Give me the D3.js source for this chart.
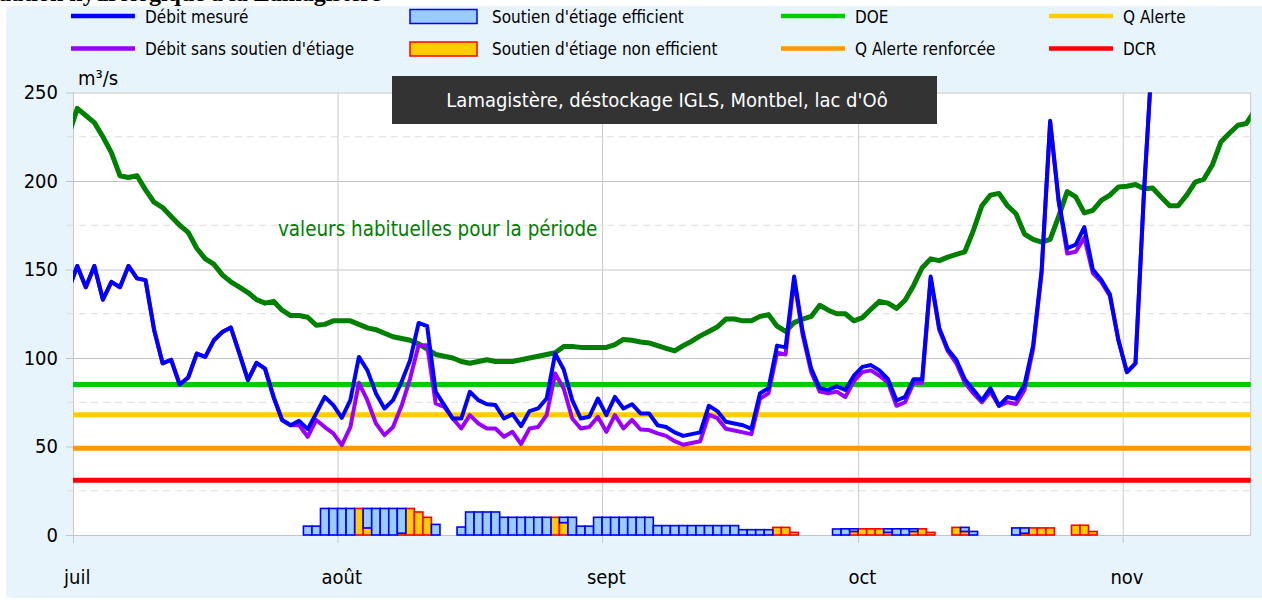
<!DOCTYPE html>
<html lang="fr">
<head>
<meta charset="utf-8">
<title>Lamagistère - soutien d'étiage</title>
<script src="https://cdnjs.cloudflare.com/ajax/libs/d3/7.8.5/d3.min.js"></script>
<style>
  body { margin: 0; background: #fff; }
  svg text { font-family: "DejaVu Sans Condensed", "DejaVu Sans", sans-serif; font-stretch: condensed; }
  .grid path { display: none; }
</style>
</head>
<body>
<div id="chart"></div>
<script>
// débits journaliers (m3/s) : un point par jour (midi), à partir du 30 juin
var lineStart = "2023-06-30";
var debitMesure = [139,152,140,152,133,143,140,152,145,144,
  116,97,99,85,89,102.5,100.6,110,114.7,117.2,
  102.5,87.5,97.2,94,78,65,62,64.5,59.8,68.7,
  78,73.4,66.2,76.2,100.6,93,80,71.5,76.2,86.5,
  98.8,119.8,118,80.9,73.4,65.8,65.8,80.9,76.2,73.9,
  73.4,65.8,68.3,61.5,70,71.5,77.1,102.5,93.5,76.2,
  65.8,66.8,77.1,67.7,78,71.5,73.9,68.7,68.7,62,
  61,58,56,57,58,73,70,64,63,62,
  60,80,83,107,106,146,115,94,83,82,
  84,82,90,95,96,93,88,76,78,88,
  88,146,117,105,99,88,82,76,83,73,
  78,77,85,107,149.5,234,189,162,164,174,
  150,144,136,110,92,97,194,275];
var debitSansSoutien = [139,152,140,152,133,143,140,152,145,144,
  116,97,99,85,89,102.5,100.6,110,114.7,117.2,
  102.5,87.5,97.2,94,78,65,62,62,55.5,65,
  61,57.4,50.8,61,86,76,63,56.4,61,73,
  88.4,107.2,107.2,74.3,72.4,65.8,60.2,67.7,63,60.2,
  60.2,55.5,58.3,51.4,60.2,61,67.7,91.3,82.8,65.8,
  60.2,61,66.8,58.3,67.7,60.2,65,59.6,59.3,57.4,
  56,53,51,52,53,68,66,60,59,58,
  57,77,80,103,102,144,113,92,81,80,
  81,78,87,92,93,90,86,73,75,86,
  86,145,116,104,97,86,80,75,81,73,
  75,74,82,105,148,233,188,159,160,168,
  148,143,135,110,92,97,194,275];
var valeursHabituelles = [226,241,237,233,225,216,203,202,203,195,
  188,185,180,175,171,162,156,153,147,143,
  140,137,133,131,132,127,124,124,123,118.5,
  119,121,121,121,119,117,116,114,112,111,
  110,108,105,102,101,100,98,97,98,99,
  98,98,98,99,100,101,102,103,106.5,106.5,
  106,106,106,106,107.5,110.5,110,109,108.5,107,
  105.5,104,107,109.5,112.5,115,117.5,122,122,121,
  121,123.5,124.5,118,115,120,122,123.5,129.8,127,
  125,125,121,122.8,127.5,132,131,128,132.6,141,
  151,156,155,157,158.5,160,172,186,192,193,
  186,181.5,170,167,165.5,167,180,194,191,182,
  183.4,189,192,196.6,197,198,195.6,196,191,186,
  186,192,199.4,201,209,222,227,231.5,232.5,240];

// soutien d'étiage journalier (m3/s), à partir du 28 juillet
var barStart = "2023-07-28";
var soutienEfficient = [5,5,15,15,15,15,0,11,15,15,15,14,0,0,0,6,
  0,0,
  4.5,13,13,13,13,10,10,10,10,10,10,0,3,10,5,5,
  10,10,10,10,10,10,10,
  5.3,5.3,5.3,5.3,5.3,5.3,5.3,5.3,5.3,5.3,
  3,3,3,3,
  0,0,0,
  0,0,0,0,
  3.4,3.5,1.5,0,0,0,2,3.5,3.5,1.5,0,0,
  0,0,
  0,2.3,2,
  0,0,0,0,
  4,3,0,0,0,
  0,0,
  0,0,0];
var soutienNonEfficient = [0,0,0,0,0,0,15,4,0,0,0,1,15,13,10,0,
  0,0,
  0,0,0,0,0,0,0,0,0,0,0,10,7,0,0,0,
  0,0,0,0,0,0,0,
  0,0,0,0,0,0,0,0,0,0,
  0,0,0,0,
  4.3,4.3,1.5,
  0,0,0,0,
  0,0,2,3.5,3.5,3.5,1.5,0,0,2,3.5,1.5,
  0,0,
  4.3,2,0,
  0,0,0,0,
  0,1,4,4,4,
  0,0,
  5.5,5.5,2];

// seuils (m3/s)
var seuilNoms = ["DOE", "Q Alerte", "Q Alerte renforcée", "DCR"];
var seuilValeurs = [85, 68, 49, 31];

var monthDates = ["2023-07-01", "2023-08-01", "2023-09-01", "2023-10-01", "2023-11-01"];
var monthLabels = ["juil", "août", "sept", "oct", "nov"];
var yTicks = [0, 50, 100, 150, 200, 250];
var yMinor = [25, 75, 125, 175, 225];

var width = 1262, height = 600;
var pLeft = 73, pRight = 1250.7, pTop = 92.5, pBottom = 535;

var parse = d3.utcParse("%Y-%m-%d");
var day = 864e5;

var svg = d3.select("#chart").append("svg")
  .attr("width", width).attr("height", height);

// titre coupé en haut de page
svg.append("text")
  .attr("x", -30).attr("y", 1)
  .style("font-family", "'Liberation Serif', serif")
  .style("font-weight", "bold").style("font-size", "24px")
  .text("Situation hydrologique à la Lamagistère");

// fond bleu clair
svg.append("rect")
  .attr("x", 6).attr("y", 6).attr("width", 1262).attr("height", 592)
  .attr("rx", 5).attr("fill", "#e8f4fc");

var x = d3.scaleUtc()
  .domain([parse("2023-07-01"), parse("2023-11-16")])
  .range([pLeft, pRight]);
var y = d3.scaleLinear().domain([0, 250]).range([pBottom, pTop]);

svg.append("rect")
  .attr("x", pLeft).attr("y", pTop)
  .attr("width", pRight - pLeft).attr("height", pBottom - pTop)
  .attr("fill", "#fff");

// grille
svg.selectAll("line.minor")
  .data(yMinor).enter().append("line")
  .attr("class", "minor")
  .attr("x1", 67).attr("x2", pRight)
  .attr("y1", function(d) { return y(d); })
  .attr("y2", function(d) { return y(d); })
  .attr("stroke", "#dcdcdc").attr("stroke-dasharray", "7,5");

var yAxis = d3.axisLeft(y).tickValues(yTicks)
  .tickSize(-(pRight - 66)).tickPadding(8);
var gy = svg.append("g").attr("class", "grid")
  .attr("transform", "translate(66,0)").call(yAxis);
gy.selectAll("line").attr("stroke", "#c4c4c4");
gy.selectAll("text").attr("font-size", "20px").attr("fill", "#000")
  .style("font-family", "'DejaVu Sans Condensed', 'DejaVu Sans', sans-serif");

var xAxis = d3.axisBottom(x).tickValues(monthDates.map(parse))
  .tickSize(-(543 - pTop)).tickFormat("");
var gx = svg.append("g").attr("class", "grid")
  .attr("transform", "translate(0,543)").call(xAxis);
gx.selectAll("line").attr("stroke", "#c8c8c8");

svg.append("line")
  .attr("x1", pRight).attr("x2", pRight).attr("y1", pTop).attr("y2", pBottom)
  .attr("stroke", "#c8c8c8");

svg.selectAll("text.month")
  .data(monthDates).enter().append("text")
  .attr("class", "month")
  .attr("x", function(d) { return x(+parse(d) + day / 2); })
  .attr("y", 584)
  .attr("text-anchor", "middle")
  .attr("font-size", "20px")
  .text(function(d, i) { return monthLabels[i]; });

svg.append("text")
  .attr("x", 78).attr("y", 85).attr("font-size", "20px")
  .text("m³/s");

// seuils
var seuilColors = ["#00cc00", "#ffcc00", "#ff9900", "#ff0000"];
svg.selectAll("line.seuil")
  .data(seuilValeurs).enter().append("line")
  .attr("class", "seuil")
  .attr("x1", pLeft).attr("x2", pRight)
  .attr("y1", function(d) { return y(d); })
  .attr("y2", function(d) { return y(d); })
  .attr("stroke", function(d, i) { return seuilColors[i]; })
  .attr("stroke-width", 5);

// barres de soutien d'étiage
var barData = soutienEfficient.map(function(e, i) {
  return { date: new Date(+parse(barStart) + i * day), eff: e, non: soutienNonEfficient[i] };
});
var bw = x(parse("2023-07-02")) - x(parse("2023-07-01"));

svg.selectAll("rect.non")
  .data(barData.filter(function(d) { return d.non > 0; }))
  .enter().append("rect")
  .attr("class", "non")
  .attr("x", function(d) { return x(d.date); })
  .attr("y", function(d) { return y(d.non); })
  .attr("width", bw)
  .attr("height", function(d) { return y(0) - y(d.non); })
  .attr("fill", "#ffcc00").attr("stroke", "#ff0000").attr("stroke-width", 1.6);

svg.selectAll("rect.eff")
  .data(barData.filter(function(d) { return d.eff > 0; }))
  .enter().append("rect")
  .attr("class", "eff")
  .attr("x", function(d) { return x(d.date); })
  .attr("y", function(d) { return y(d.non + d.eff); })
  .attr("width", bw)
  .attr("height", function(d) { return y(d.non) - y(d.non + d.eff); })
  .attr("fill", "#99ccff").attr("stroke", "#0000ff").attr("stroke-width", 1.6);

// courbes
svg.append("clipPath").attr("id", "plot")
  .append("rect").attr("x", pLeft).attr("y", pTop)
  .attr("width", pRight - pLeft).attr("height", pBottom - pTop);

var line = d3.line()
  .x(function(d, i) { return x(+parse(lineStart) + i * day + day / 2); })
  .y(function(d) { return y(d); });

[[valeursHabituelles, "#008000", 5], [debitSansSoutien, "#9900ff", 4], [debitMesure, "#0000ff", 4]]
  .forEach(function(s) {
    svg.append("path")
      .datum(s[0])
      .attr("clip-path", "url(#plot)")
      .attr("d", line)
      .attr("fill", "none")
      .attr("stroke", s[1])
      .attr("stroke-width", s[2])
      .attr("stroke-linejoin", "round");
  });

svg.append("text")
  .attr("x", 278).attr("y", 236)
  .attr("font-size", "20.4px").attr("fill", "#008000")
  .text("valeurs habituelles pour la période");

// cartouche titre
svg.append("rect")
  .attr("x", 392).attr("y", 76).attr("width", 545).attr("height", 48)
  .attr("fill", "#333333");
svg.append("text")
  .attr("x", 667).attr("y", 107)
  .attr("text-anchor", "middle").attr("font-size", "20px").attr("fill", "#fff")
  .text("Lamagistère, déstockage IGLS, Montbel, lac d'Oô");

// légende
var legend = [
  { label: "Débit mesuré", type: "line", color: "#0000ff", x: 71, row: 0 },
  { label: "Débit sans soutien d'étiage", type: "line", color: "#9900ff", x: 71, row: 1 },
  { label: "Soutien d'étiage efficient", type: "rect", color: "#99ccff", stroke: "#0000ff", x: 410, row: 0 },
  { label: "Soutien d'étiage non efficient", type: "rect", color: "#ffcc00", stroke: "#ff0000", x: 410, row: 1 },
  { label: "DOE", type: "line", color: "#00cc00", x: 781, row: 0 },
  { label: "Q Alerte renforcée", type: "line", color: "#ff9900", x: 781, row: 1 },
  { label: "Q Alerte", type: "line", color: "#ffcc00", x: 1049, row: 0 },
  { label: "DCR", type: "line", color: "#ff0000", x: 1049, row: 1 }
];
var lg = svg.selectAll("g.legend").data(legend).enter().append("g")
  .attr("transform", function(d) { return "translate(" + d.x + "," + (16 + d.row * 32.5) + ")"; });
lg.filter(function(d) { return d.type == "line"; }).append("line")
  .attr("x1", 0).attr("x2", 64).attr("y1", 0).attr("y2", 0)
  .attr("stroke", function(d) { return d.color; }).attr("stroke-width", 4.5);
lg.filter(function(d) { return d.type == "rect"; }).append("rect")
  .attr("x", 0).attr("y", -6.5).attr("width", 67).attr("height", 14)
  .attr("fill", function(d) { return d.color; })
  .attr("stroke", function(d) { return d.stroke; }).attr("stroke-width", 1.5);
lg.append("text")
  .attr("x", function(d) { return d.type == "rect" ? 82 : 74; })
  .attr("y", 6.5).attr("font-size", "17px")
  .text(function(d) { return d.label; });
</script>
</body>
</html>
